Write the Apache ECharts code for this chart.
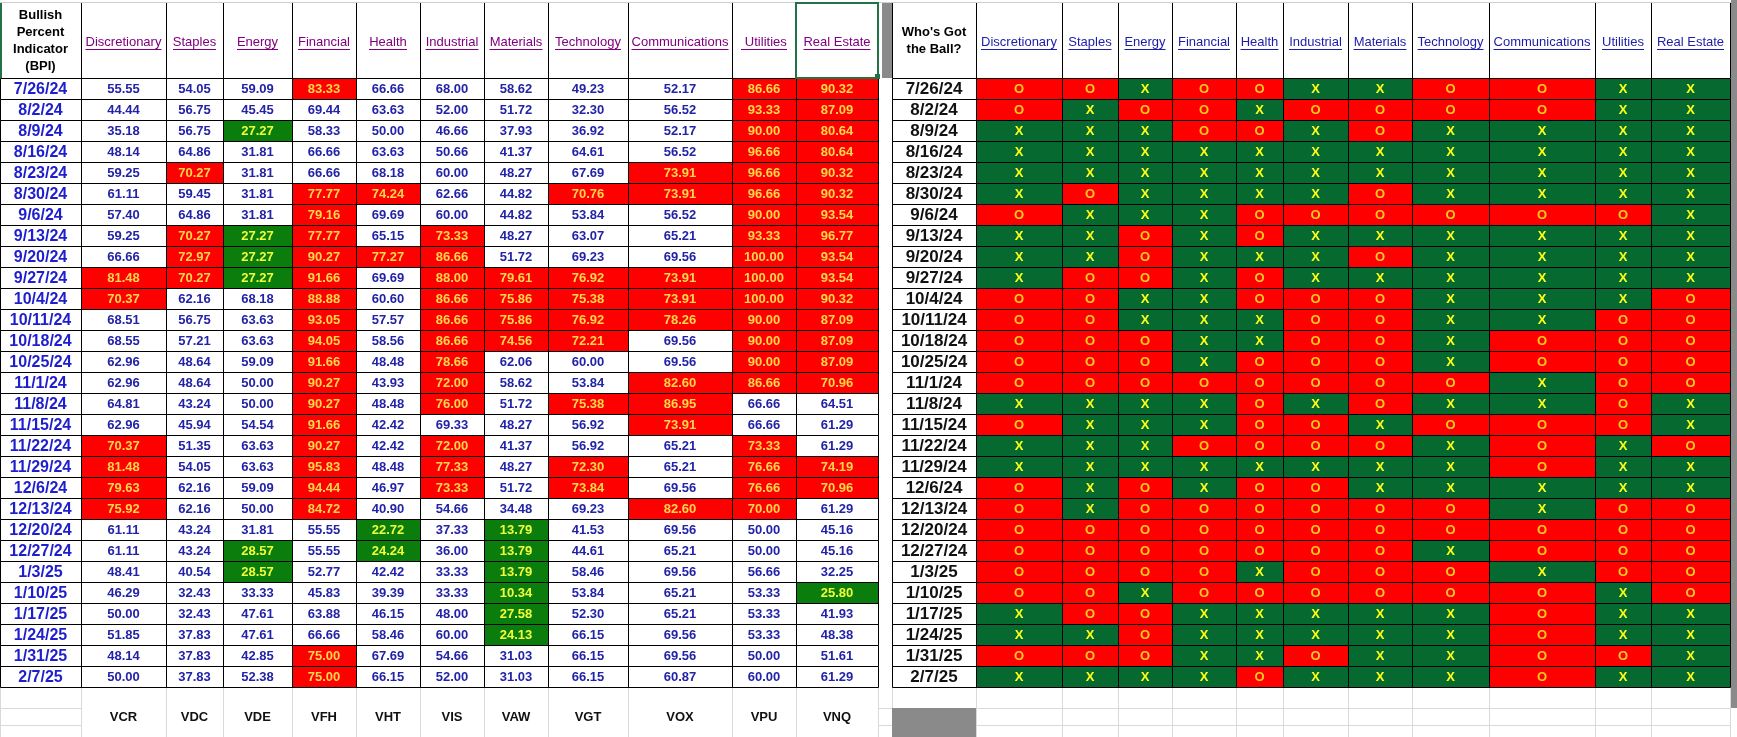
<!DOCTYPE html>
<html>
<head>
<meta charset="utf-8">
<title>Bullish Percent Indicator - Who's Got the Ball?</title>
<script src="https://cdn.jsdelivr.net/npm/echarts@6/dist/echarts.min.js"></script>
<style>
  html, body { margin: 0; padding: 0; background: #fff; }
  #chart { width: 1737px; height: 737px; }
</style>
</head>
<body>
<div id="chart"></div>
<script>
'use strict';

// ---- data ----
var dates = ['7/26/24', '8/2/24', '8/9/24', '8/16/24', '8/23/24', '8/30/24', '9/6/24', '9/13/24',
  '9/20/24', '9/27/24', '10/4/24', '10/11/24', '10/18/24', '10/25/24', '11/1/24', '11/8/24',
  '11/15/24', '11/22/24', '11/29/24', '12/6/24', '12/13/24', '12/20/24', '12/27/24', '1/3/25',
  '1/10/25', '1/17/25', '1/24/25', '1/31/25', '2/7/25'];
var sectors = ['Discretionary', 'Staples', 'Energy', 'Financial', 'Health', 'Industrial',
  'Materials', 'Technology', 'Communications', 'Utilities', 'Real Estate'];
var tickers = ['VCR', 'VDC', 'VDE', 'VFH', 'VHT', 'VIS', 'VAW', 'VGT', 'VOX', 'VPU', 'VNQ'];

var bpiDiscretionary = [55.55, 44.44, 35.18, 48.14, 59.25, 61.11, 57.40, 59.25, 66.66, 81.48, 70.37, 68.51, 68.55, 62.96, 62.96, 64.81, 62.96, 70.37, 81.48, 79.63, 75.92, 61.11, 61.11, 48.41, 46.29, 50.00, 51.85, 48.14, 50.00];
var bpiStaples = [54.05, 56.75, 56.75, 64.86, 70.27, 59.45, 64.86, 70.27, 72.97, 70.27, 62.16, 56.75, 57.21, 48.64, 48.64, 43.24, 45.94, 51.35, 54.05, 62.16, 62.16, 43.24, 43.24, 40.54, 32.43, 32.43, 37.83, 37.83, 37.83];
var bpiEnergy = [59.09, 45.45, 27.27, 31.81, 31.81, 31.81, 31.81, 27.27, 27.27, 27.27, 68.18, 63.63, 63.63, 59.09, 50.00, 50.00, 54.54, 63.63, 63.63, 59.09, 50.00, 31.81, 28.57, 28.57, 33.33, 47.61, 47.61, 42.85, 52.38];
var bpiFinancial = [83.33, 69.44, 58.33, 66.66, 66.66, 77.77, 79.16, 77.77, 90.27, 91.66, 88.88, 93.05, 94.05, 91.66, 90.27, 90.27, 91.66, 90.27, 95.83, 94.44, 84.72, 55.55, 55.55, 52.77, 45.83, 63.88, 66.66, 75.00, 75.00];
var bpiHealth = [66.66, 63.63, 50.00, 63.63, 68.18, 74.24, 69.69, 65.15, 77.27, 69.69, 60.60, 57.57, 58.56, 48.48, 43.93, 48.48, 42.42, 42.42, 48.48, 46.97, 40.90, 22.72, 24.24, 42.42, 39.39, 46.15, 58.46, 67.69, 66.15];
var bpiIndustrial = [68.00, 52.00, 46.66, 50.66, 60.00, 62.66, 60.00, 73.33, 86.66, 88.00, 86.66, 86.66, 86.66, 78.66, 72.00, 76.00, 69.33, 72.00, 77.33, 73.33, 54.66, 37.33, 36.00, 33.33, 33.33, 48.00, 60.00, 54.66, 52.00];
var bpiMaterials = [58.62, 51.72, 37.93, 41.37, 48.27, 44.82, 44.82, 48.27, 51.72, 79.61, 75.86, 75.86, 74.56, 62.06, 58.62, 51.72, 48.27, 41.37, 48.27, 51.72, 34.48, 13.79, 13.79, 13.79, 10.34, 27.58, 24.13, 31.03, 31.03];
var bpiTechnology = [49.23, 32.30, 36.92, 64.61, 67.69, 70.76, 53.84, 63.07, 69.23, 76.92, 75.38, 76.92, 72.21, 60.00, 53.84, 75.38, 56.92, 56.92, 72.30, 73.84, 69.23, 41.53, 44.61, 58.46, 53.84, 52.30, 66.15, 66.15, 66.15];
var bpiCommunications = [52.17, 56.52, 52.17, 56.52, 73.91, 73.91, 56.52, 65.21, 69.56, 73.91, 73.91, 78.26, 69.56, 69.56, 82.60, 86.95, 73.91, 65.21, 65.21, 69.56, 82.60, 69.56, 65.21, 69.56, 65.21, 65.21, 69.56, 69.56, 60.87];
var bpiUtilities = [86.66, 93.33, 90.00, 96.66, 96.66, 96.66, 90.00, 93.33, 100.00, 100.00, 100.00, 90.00, 90.00, 90.00, 86.66, 66.66, 66.66, 73.33, 76.66, 76.66, 70.00, 50.00, 50.00, 56.66, 53.33, 53.33, 53.33, 50.00, 60.00];
var bpiRealEstate = [90.32, 87.09, 80.64, 80.64, 90.32, 90.32, 93.54, 96.77, 93.54, 93.54, 90.32, 87.09, 87.09, 87.09, 70.96, 64.51, 61.29, 61.29, 74.19, 70.96, 61.29, 45.16, 45.16, 32.25, 25.80, 41.93, 48.38, 51.61, 61.29];

// X = green (has the ball), O = red
var ballDiscretionary = 'O O X X X X O X X X O O O O O X O X X O O O O O O X X O X'.split(' ');
var ballStaples = 'O X X X X O X X X O O O O O O X X X X X X O O O O O X O X'.split(' ');
var ballEnergy = 'X O X X X X X O O O X X O O O X X X X O O O O O X O O O X'.split(' ');
var ballFinancial = 'O O O X X X X X X X X X X X O X X O X X O O O O O X X X X'.split(' ');
var ballHealth = 'O X O X X X O O X O O X X O O O O O X O O O O X O X X X O'.split(' ');
var ballIndustrial = 'X O X X X X O X X X O O O O O X O O X O O O O O O X X O X'.split(' ');
var ballMaterials = 'X O O X X O O X O X O O O O O O X O X X O O O O O X X X X'.split(' ');
var ballTechnology = 'O O X X X X O X X X X X X X O X O X X X O O X O O X X X X'.split(' ');
var ballCommunications = 'O O X X X X O X X X X X O O X X O O O X X O O X O O O O O'.split(' ');
var ballUtilities = 'X X X X X X O X X X X O O O O O O X X X O O O O X X X O X'.split(' ');
var ballRealEstate = 'X X X X X X X X X X O O O O O X X O X X O O O O O X X X X'.split(' ');

var bpiColumns = [bpiDiscretionary, bpiStaples, bpiEnergy, bpiFinancial, bpiHealth, bpiIndustrial,
  bpiMaterials, bpiTechnology, bpiCommunications, bpiUtilities, bpiRealEstate];
var ballColumns = [ballDiscretionary, ballStaples, ballEnergy, ballFinancial, ballHealth, ballIndustrial,
  ballMaterials, ballTechnology, ballCommunications, ballUtilities, ballRealEstate];

// ---- layout / style ----
var FONT = '"Liberation Sans", Arial, sans-serif';
var TOP = 78, BODY_H = 609, HEADER_H = 75, FOOTER_H = 50;
var leftEdges = [0, 81, 166, 223, 292, 356, 420, 484, 548, 628, 732, 796, 878];
var rightEdges = [892, 976, 1062, 1118, 1172, 1236, 1283, 1348, 1412, 1489, 1595, 1651, 1730];
var RED = '#ff0000', GREEN_L = '#0a7d0c', GREEN_R = '#066a30';
var VALUE_BLUE = '#2323a8', DATE_BLUE = '#1e1ecd';
var LINK_PURPLE = '#800080', LINK_BLUE = '#1c1ca8';
var GRID_GRAY = '#d9d9d9', SHEET_GRAY = '#8a8a8a', SEL_GREEN = '#217346';

var measureCtx = document.createElement('canvas').getContext('2d');
function textWidth(s, font) {
  measureCtx.font = font;
  return Math.round(measureCtx.measureText(s).width);
}

function makeRenderer(texts, fills, colors, font) {
  return function (params, api) {
    var i = params.dataIndex;
    var c = api.coord([api.value(0), api.value(1)]);
    var band = api.size([1, 1]);
    var w = Math.round(band[0]), h = Math.round(band[1]);
    var x = Math.round(c[0] - band[0] / 2), y = Math.round(c[1] - band[1] / 2);
    return {
      type: 'group',
      children: [
        { type: 'rect', z2: 0, shape: { x: x, y: y, width: w, height: h }, style: { fill: fills[i] } },
        { type: 'rect', z2: 2, shape: { x: x + 0.5, y: y + 0.5, width: w, height: h },
          style: { fill: null, stroke: '#000', lineWidth: 1 } },
        { type: 'text', z2: 3, style: { text: texts[i], x: x + w / 2, y: y + h / 2 + 1, align: 'center',
          verticalAlign: 'middle', font: font, fill: colors[i] } }
      ]
    };
  };
}

function linkLabel(name, color) {
  var w = textWidth(name, '13px ' + FONT);
  return {
    interval: 0, margin: 28,
    formatter: function () { return '{t|' + name + '}\n{u| }'; },
    rich: {
      t: { fontFamily: FONT, fontSize: 13, lineHeight: 14, color: color },
      u: { width: w, height: 1, lineHeight: 1, fontSize: 1, backgroundColor: color }
    }
  };
}

function boldLabel(text, margin) {
  return {
    interval: 0, margin: margin,
    formatter: function () { return text; },
    fontFamily: FONT, fontSize: 13, fontWeight: 'bold', lineHeight: 17, color: '#000'
  };
}

var grids = [], xAxes = [], yAxes = [], series = [];

function addColumn(left, width, headerLabel, footerText, texts, fills, colors, font) {
  var gi = grids.length;
  grids.push({ left: left, top: TOP, width: width, height: BODY_H });
  xAxes.push({
    type: 'category', gridIndex: gi, position: 'top', data: ['h'],
    axisLine: { show: false },
    axisTick: { show: true, length: HEADER_H, lineStyle: { color: '#000', width: 1 } },
    axisLabel: headerLabel
  });
  xAxes.push({
    type: 'category', gridIndex: gi, position: 'bottom', data: ['f'],
    axisLine: { show: false },
    axisTick: { show: true, length: FOOTER_H, lineStyle: { color: GRID_GRAY, width: 1 } },
    axisLabel: {
      interval: 0, margin: 23, formatter: function () { return footerText; },
      fontFamily: FONT, fontSize: 13, fontWeight: 'bold', lineHeight: 14, color: '#111'
    }
  });
  yAxes.push({ type: 'category', gridIndex: gi, data: dates, inverse: true, show: false });
  series.push({
    type: 'custom', xAxisIndex: 2 * gi, yAxisIndex: gi, silent: true,
    data: dates.map(function (d, i) { return [0, i]; }),
    renderItem: makeRenderer(texts, fills, colors, font)
  });
}

function white() { return dates.map(function () { return '#fff'; }); }
function same(c) { return dates.map(function () { return c; }); }

// left table: BPI values
addColumn(leftEdges[0], leftEdges[1] - leftEdges[0],
  boldLabel('Bullish\nPercent\nIndicator\n(BPI)', 3), '',
  dates, white(), same(DATE_BLUE), 'bold 16px ' + FONT);

bpiColumns.forEach(function (vals, k) {
  var name = k === 9 ? ' ' + sectors[k] : sectors[k];
  addColumn(leftEdges[k + 1], leftEdges[k + 2] - leftEdges[k + 1],
    linkLabel(name, LINK_PURPLE), tickers[k],
    vals.map(function (v) { return v.toFixed(2); }),
    vals.map(function (v) { return v >= 70 ? RED : (v <= 30 ? GREEN_L : '#fff'); }),
    vals.map(function (v) { return v >= 70 ? '#ffd84a' : (v <= 30 ? '#f2ff3a' : VALUE_BLUE); }),
    'bold 13px ' + FONT);
});

// right table: who's got the ball
addColumn(rightEdges[0], rightEdges[1] - rightEdges[0],
  boldLabel('Who\'s Got\nthe Ball?', 20), '',
  dates, white(), same('#111'), 'bold 17px ' + FONT);

ballColumns.forEach(function (marks, k) {
  addColumn(rightEdges[k + 1], rightEdges[k + 2] - rightEdges[k + 1],
    linkLabel(sectors[k], LINK_BLUE), '',
    marks,
    marks.map(function (m) { return m === 'X' ? GREEN_R : RED; }),
    marks.map(function (m) { return m === 'X' ? '#ffff1a' : '#ffc81e'; }),
    'bold 13px ' + FONT);
});

// spreadsheet chrome around the tables
var chrome = [
  { type: 'rect', shape: { x: 0, y: 2, width: 1737, height: 1 }, style: { fill: '#cfcfcf' } },
  { type: 'rect', shape: { x: 0, y: 3, width: 2, height: 75 }, style: { fill: SEL_GREEN } },
  { type: 'rect', shape: { x: 796, y: 3, width: 82, height: 75 }, style: { fill: null, stroke: SEL_GREEN, lineWidth: 2 } },
  { type: 'rect', shape: { x: 875, y: 74, width: 5, height: 5 }, style: { fill: SEL_GREEN } },
  { type: 'rect', shape: { x: 882, y: 3, width: 10, height: 75 }, style: { fill: SHEET_GRAY } },
  { type: 'rect', shape: { x: 1731, y: 0, width: 6, height: 708 }, style: { fill: SHEET_GRAY } },
  { type: 'rect', shape: { x: 0, y: 708, width: 81, height: 1 }, style: { fill: GRID_GRAY } },
  { type: 'rect', shape: { x: 0, y: 725, width: 81, height: 1 }, style: { fill: GRID_GRAY } },
  { type: 'rect', shape: { x: 878, y: 708, width: 852, height: 1 }, style: { fill: GRID_GRAY } },
  { type: 'rect', shape: { x: 878, y: 725, width: 852, height: 1 }, style: { fill: GRID_GRAY } },
  { type: 'rect', shape: { x: 892, y: 708, width: 84, height: 29 }, style: { fill: SHEET_GRAY } }
];

var chart = echarts.init(document.getElementById('chart'));
chart.setOption({
  animation: false,
  backgroundColor: '#fff',
  textStyle: { fontFamily: FONT },
  grid: grids,
  xAxis: xAxes,
  yAxis: yAxes,
  series: series,
  graphic: { elements: chrome.map(function (e) { e.silent = true; e.z = 10; return e; }) }
});
window.addEventListener('resize', function () { chart.resize(); });
</script>
</body>
</html>
